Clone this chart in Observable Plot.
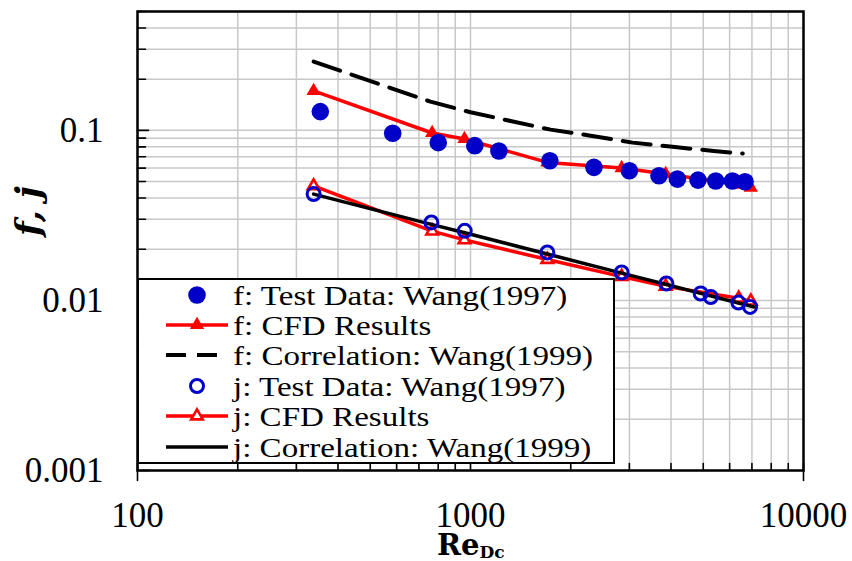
<!DOCTYPE html>
<html><head><meta charset="utf-8">
<script src="https://cdn.jsdelivr.net/npm/d3@7"></script>
<script src="https://cdn.jsdelivr.net/npm/@observablehq/plot@0.6"></script>
<style>
html,body{margin:0;padding:0;background:#fff;}
#wrap{position:relative;width:852px;height:561px;overflow:hidden;font-family:"Liberation Serif",serif;color:#000;}
#wrap svg.plot{position:absolute;left:0;top:0;}
#legend{position:absolute;left:137px;top:278px;width:478px;height:186px;box-sizing:border-box;border:2px solid #000;background:#fff;}
.row{position:absolute;left:0;width:470px;height:30px;}
.row svg{position:absolute;left:27px;top:0;}
.row span{position:absolute;left:94px;top:1px;line-height:30px;font-size:28px;white-space:nowrap;font-family:"Liberation Serif",serif;transform:scaleX(1.18);transform-origin:0 50%;}
#ytitle{position:absolute;left:28px;top:211px;transform:translate(-50%,-50%) rotate(-90deg);font-family:"DejaVu Serif",serif;font-weight:bold;font-style:italic;font-size:34px;white-space:nowrap;}
#xtitle{position:absolute;left:437px;top:535px;font-family:"DejaVu Serif",serif;font-weight:bold;font-size:29px;white-space:nowrap;line-height:21px;}
#xtitle sub{font-size:17px;vertical-align:-3px;line-height:12px;}
</style>
</head><body>
<div id="wrap"></div>
<script>
// ---- data ----
const fTestRe = [354, 584, 800, 1030, 1217, 1731, 2348, 3000, 3681, 4181, 4822, 5450, 6118, 6676];
const fTestF  = [0.1289, 0.0961, 0.0847, 0.0813, 0.0756, 0.0663, 0.0606, 0.0579, 0.0541, 0.0517, 0.0510, 0.0504, 0.0504, 0.0499];

const fCfdRe = [338, 767, 959, 1701, 2844, 3856, 6390, 6944];
const fCfdF  = [0.1706, 0.0965, 0.0890, 0.0648, 0.0600, 0.0554, 0.0480, 0.0461];

const fCorrRe = [338, 530, 758, 1000, 1319, 1740, 2295, 3069, 4048, 5376, 6570];
const fCorrF  = [0.2539, 0.1876, 0.1476, 0.1278, 0.1136, 0.1010, 0.0931, 0.0847, 0.0800, 0.0756, 0.0731];

const jTestRe = [338, 763, 961, 1701, 2844, 3875, 4912, 5265, 6377, 6910];
const jTestJ  = [0.04221, 0.02876, 0.02566, 0.01915, 0.01460, 0.01258, 0.01098, 0.01048, 0.00972, 0.00916];

const jCfdRe = [338, 767, 959, 1701, 2844, 3856, 6390, 6944];
const jCfdJ  = [0.0471, 0.02556, 0.0227, 0.01741, 0.0138, 0.0121, 0.0103, 0.0099];

const jCorrRe = [338, 763, 961, 1701, 2844, 3875, 4912, 6377, 7090];
const jCorrJ  = [0.0422, 0.0280, 0.0250, 0.01876, 0.01448, 0.01241, 0.01101, 0.00965, 0.00916];

const xTickLabels = [100, 1000, 10000];
const yTickLabels = [0.001, 0.01, 0.1];
const seriesNames = [
  "f: Test Data: Wang(1997)",
  "f: CFD Results",
  "f: Correlation: Wang(1999)",
  "j: Test Data: Wang(1997)",
  "j: CFD Results",
  "j: Correlation: Wang(1999)"
];

// ---- helpers ----
const zip = (xs, ys) => xs.map((x, i) => ({x, y: ys[i]}));
const fTest = zip(fTestRe, fTestF), fCfd = zip(fCfdRe, fCfdF), fCorr = zip(fCorrRe, fCorrF);
const jTest = zip(jTestRe, jTestJ), jCfd = zip(jCfdRe, jCfdJ), jCorr = zip(jCorrRe, jCorrJ);

const xDomain = [100, 10000], yDomain = [0.001, 0.5];
const xGrid = d3.scaleLog().domain(xDomain).ticks();
const yGrid = d3.scaleLog().domain(yDomain).ticks();
const isMajor = d => Math.abs(Math.log10(d) - Math.round(Math.log10(d))) < 1e-9;
const tickShape = {draw(ctx, l) { ctx.moveTo(0, 0); ctx.lineTo(0, -l); }};

const BLUE = "#0000c8", RED = "#ff0000";
const gridStyle = {stroke: "#c8c8c8", strokeOpacity: 1, strokeWidth: 1.5};

const chart = Plot.plot({
  width: 852, height: 561,
  marginLeft: 137, marginRight: 49, marginTop: 11, marginBottom: 91,
  x: {type: "log", domain: xDomain},
  y: {type: "log", domain: yDomain},
  style: {fontFamily: "Liberation Serif", fontSize: "35px", color: "#000", background: "#fff", overflow: "visible"},
  marks: [
    Plot.gridX(xGrid, gridStyle),
    Plot.gridY(yGrid, gridStyle),
    Plot.axisX(xTickLabels, {tickSize: 0, tickPadding: 32, tickFormat: d => String(d), fontSize: 35, label: null}),
    Plot.axisY(yTickLabels, {tickSize: 0, tickPadding: 34, tickFormat: d => String(d), fontSize: 35, label: null}),
    // inward ticks
    Plot.vector(yGrid.filter(isMajor), {y: d => d, frameAnchor: "left", rotate: 90, anchor: "start", length: 11, shape: tickShape, stroke: "#000", strokeWidth: 1.6}),
    Plot.vector(yGrid.filter(d => !isMajor(d)), {y: d => d, frameAnchor: "left", rotate: 90, anchor: "start", length: 8, shape: tickShape, stroke: "#000", strokeWidth: 1.6}),
    Plot.vector(xGrid, {x: d => d, frameAnchor: "bottom", rotate: 0, anchor: "start", length: 7, shape: tickShape, stroke: "#000", strokeWidth: 1.6}),
    Plot.vector([xDomain[0], xDomain[1]], {x: d => d, frameAnchor: "bottom", rotate: 180, anchor: "start", length: 10, shape: tickShape, stroke: "#000", strokeWidth: 1.6}),
    // series
    Plot.line(fCorr, {x: "x", y: "y", stroke: "#000", strokeWidth: 4, strokeDasharray: "28,12"}),
    Plot.line(fCfd, {x: "x", y: "y", stroke: RED, strokeWidth: 3.5}),
    Plot.dot(fCfd, {x: "x", y: "y", symbol: "triangle", r: 5.3, fill: RED, stroke: "none"}),
    Plot.line(jCfd, {x: "x", y: "y", stroke: RED, strokeWidth: 3.5}),
    Plot.dot(jCfd, {x: "x", y: "y", symbol: "triangle", r: 4.3, fill: "#fff", stroke: RED, strokeWidth: 2.6}),
    Plot.line(jCorr, {x: "x", y: "y", stroke: "#000", strokeWidth: 3.5}),
    Plot.dot(fTest, {x: "x", y: "y", r: 8.8, fill: BLUE, stroke: "none"}),
    Plot.dot(jTest, {x: "x", y: "y", r: 6.5, fill: "none", stroke: BLUE, strokeWidth: 3}),
    Plot.frame({stroke: "#000", strokeWidth: 2.5})
  ]
});
chart.classList.add("plot");
const wrap = document.getElementById("wrap");
wrap.appendChild(chart);

// ---- legend (inside plot area) ----
const swatches = [
  `<circle cx="31" cy="15" r="8.8" fill="${BLUE}"/>`,
  `<line x1="0" y1="15" x2="62" y2="15" stroke="${RED}" stroke-width="3.5"/><path d="${d3.symbol(d3.symbolTriangle, Math.PI*5.3*5.3)()}" transform="translate(31,15)" fill="${RED}"/>`,
  `<line x1="0" y1="15" x2="62" y2="15" stroke="#000" stroke-width="4" stroke-dasharray="20,11"/>`,
  `<circle cx="31" cy="15" r="6.5" fill="none" stroke="${BLUE}" stroke-width="3"/>`,
  `<line x1="0" y1="15" x2="62" y2="15" stroke="${RED}" stroke-width="3.5"/><path d="${d3.symbol(d3.symbolTriangle, Math.PI*4.3*4.3)()}" transform="translate(31,15)" fill="#fff" stroke="${RED}" stroke-width="2.6"/>`,
  `<line x1="0" y1="15" x2="62" y2="15" stroke="#000" stroke-width="3.5"/>`
];
const legend = document.createElement("div");
legend.id = "legend";
const rowCenters = [15, 44.5, 75, 106, 136, 167];
seriesNames.forEach((name, i) => {
  const row = document.createElement("div");
  row.className = "row";
  row.style.top = (rowCenters[i] - 15) + "px";
  row.innerHTML = `<svg width="62" height="30">${swatches[i]}</svg><span>${name}</span>`;
  legend.appendChild(row);
});
wrap.appendChild(legend);

// ---- axis titles ----
const yt = document.createElement("div");
yt.id = "ytitle"; yt.textContent = "f, j";
wrap.appendChild(yt);
const xt = document.createElement("div");
xt.id = "xtitle"; xt.innerHTML = "Re<sub>Dc</sub>";
wrap.appendChild(xt);
</script>
</body></html>
